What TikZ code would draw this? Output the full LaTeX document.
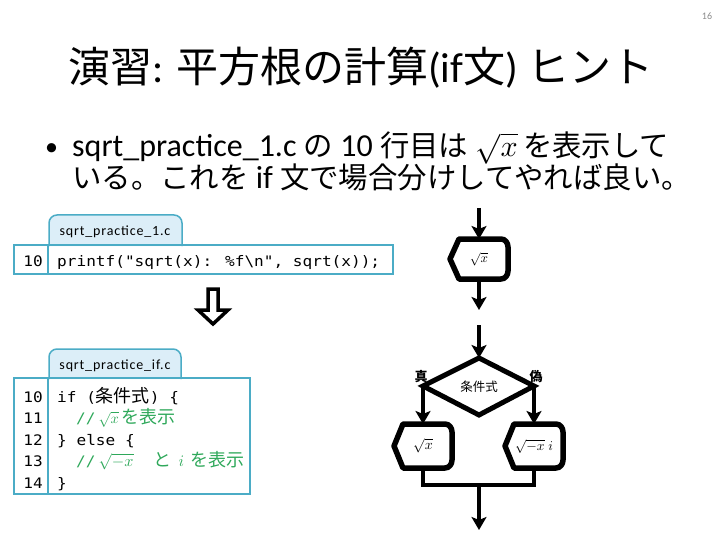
\documentclass[tikz,border=0pt]{standalone}
\usepackage{fontspec}
\setmainfont{Carlito}
\newfontfamily\jp{Noto Sans CJK JP}
\newfontfamily\code[FakeStretch=1.11,Ligatures=TeXOff]{DejaVu Sans Mono}
\usetikzlibrary{arrows.meta}
\definecolor{boxline}{HTML}{4BACC6}
\definecolor{tabfill}{HTML}{DCEEF8}
\definecolor{cmt}{HTML}{2EA85A}
\definecolor{pgnum}{HTML}{8C8C8C}
\newcommand\jpc{\jp\fontsize{18}{20}\selectfont}
\newcommand\jpb{\jp\fontsize{29.4}{34}\selectfont}
\newcommand\smath[2]{\scalebox{#1}{\fontsize{10}{12}\selectfont$#2$}}
\newcommand\dispshape[4]{%
  \coordinate (#1) at (#2,#3);
  \coordinate (#1-n) at (#2,#3-#4);
  \coordinate (#1-s) at (#2,#3+#4);
  \draw[shapeline] (#1) ++(-29,0) -- ++(9,-#4) -- ++(42,0)
    to[out=0,in=90] ++(7,8) -- ++(0,{2*#4-16})
    to[out=-90,in=0] ++(-7,8) -- ++(-42,0) -- cycle;}
\begin{document}
\begin{tikzpicture}[x=1pt,y=-1pt,
  shapeline/.style={line width=5.5pt,line join=round,fill=white},
  conn/.style={line width=4pt},
  arr/.style={conn,-{Stealth[length=13pt,width=15pt,inset=3pt]}},
  body/.style={anchor=base west,inner sep=0pt,font=\fontsize{32}{36}\selectfont},
  codebox/.style={draw=boxline,line width=1.5pt},
  tabbox/.style={draw=boxline,line width=1.5pt,fill=tabfill,rounded corners=8pt},
  tablbl/.style={anchor=base,inner sep=0pt,font=\addfontfeatures{LetterSpace=6}\fontsize{14}{16}\selectfont},
  lnum/.style={anchor=base east,inner sep=0pt,font=\code\fontsize{14.5}{17}\selectfont},
  codetx/.style={anchor=base west,inner sep=0pt,text height=10pt,text depth=3pt,font=\code\fontsize{14.5}{17}\selectfont},
  fclbl/.style={inner sep=0pt,font=\jp\fontsize{12.5}{14}\selectfont},
  mathlbl/.style={inner sep=0pt}]
\useasboundingbox (0,0) rectangle (720,540);

% page number
\node[inner sep=0pt,text=pgnum,font=\fontsize{10}{12}\selectfont] (pg) at (707,16) {16};

% title
\node[inner sep=0pt,font=\fontsize{42}{48}\selectfont] (title) at (361,68)
  {{\jp 演習}: {\jp 平方根の計算}(if{\jp 文}) {\jp ヒント}};

% bullet text
\node[body,font=\fontsize{26}{30}\selectfont] (bul) at (45,156) {•};
\node[body] (l1) at (72,157) {sqrt\_practice\_1.c {\jpb の} 10 {\jpb 行目は} \smath{3.0}{\sqrt{x}}\,{\jpb を表示して}};
\node[body] (l2) at (72,189) {{\jpb いる。これを} if {\jpb 文で場合分けしてやれば良い。}};

% code box 1
\draw[tabbox] (49,246) -- (49,215) -- (182,215) -- (182,246);
\node[tablbl] (tab1) at (115,236) {sqrt\_practice\_1.c};
\draw[codebox] (14,245) rectangle (393,274);
\draw[codebox] (48,245) -- (48,274);
\node[lnum] (n10a) at (43,266) {10};
\node[codetx] (c10a) at (57,266) {printf("sqrt(x): \%f\textbackslash n", sqrt(x));};

% hollow arrow
\draw[line width=3.5pt,line join=miter,fill=white] (208,289) -- (218,289) -- (218,310) -- (228,310)
  -- (213,324) -- (198,310) -- (208,310) -- cycle;

% code box 2
\draw[tabbox] (49,379) -- (49,349) -- (181,349) -- (181,379);
\node[tablbl] (tab2) at (115,369) {sqrt\_practice\_if.c};
\draw[codebox] (14,378) rectangle (250,494);
\draw[codebox] (48,378) -- (48,494);
\node[lnum] (n10) at (43,402) {10};
\node[lnum] (n11) at (43,423.5) {11};
\node[lnum] (n12) at (43,445) {12};
\node[lnum] (n13) at (43,466.5) {13};
\node[lnum] (n14) at (43,488) {14};
\node[codetx] (c10) at (57,402) {if ({\jpc 条件式}) \{};
\node[codetx,text=cmt] (c11) at (76,423.5) {//\hspace{3pt}\makebox[23pt][l]{\smath{1.45}{\sqrt{x}}}{\jpc を表示}};
\node[codetx] (c12) at (57,445) {\} else \{};
\node[codetx,text=cmt] (c13) at (76,466.5) {//\hspace{3pt}\makebox[55pt][l]{\smath{1.6}{\sqrt{-x}}}{\jpc と}\hspace{7pt}\makebox[12pt][l]{\smath{1.6}{i}}{\jpc を表示}};
\node[codetx] (c14) at (57,488) {\}};

% flowchart
\coordinate (in0) at (479,208);
\dispshape{s1}{479}{259}{20}
\node[mathlbl] (s1t) at (479,259) {\smath{1.3}{\sqrt{x}}};
\draw[arr] (in0) -- (s1-n);
\coordinate (a1end) at (479,310);
\draw[arr] (s1-s) -- (a1end);
\coordinate (a2start) at (479,325);
\coordinate (dT) at (479,358);
\coordinate (dL) at (423,386);
\coordinate (dR) at (534,386);
\coordinate (dB) at (479,415);
\draw[arr] (a2start) -- (dT);
\draw[line width=5pt,line join=miter,fill=white] (dT) -- (dR) -- (dB) -- (dL) -- cycle;
\node[fclbl] (cond) at (479,387) {条件式};
\node[fclbl,font=\jp\bfseries\fontsize{13}{15}\selectfont] (tru) at (421,377) {真};
\node[fclbl,font=\jp\bfseries\fontsize{13}{15}\selectfont] (fal) at (536,377) {偽};
\dispshape{sL}{423}{446}{22}
\dispshape{sR}{534}{446}{22}
\node[mathlbl] (sLt) at (423,446) {\smath{1.4}{\sqrt{x}}};
\node[mathlbl] (sRt) at (534,446) {\smath{1.35}{\sqrt{-x}\;i}};
\draw[arr] (dL) -- (sL-n);
\draw[arr] (dR) -- (sR-n);
\coordinate (jL) at (423,485);
\coordinate (jR) at (534,485);
\coordinate (jM) at (479,485);
\coordinate (out) at (479,530);
\draw[conn,line join=miter] (sL-s) -- (jL) -- (jR) -- (sR-s);
\draw[arr] (jM) -- (out);
\end{tikzpicture}
\end{document}
